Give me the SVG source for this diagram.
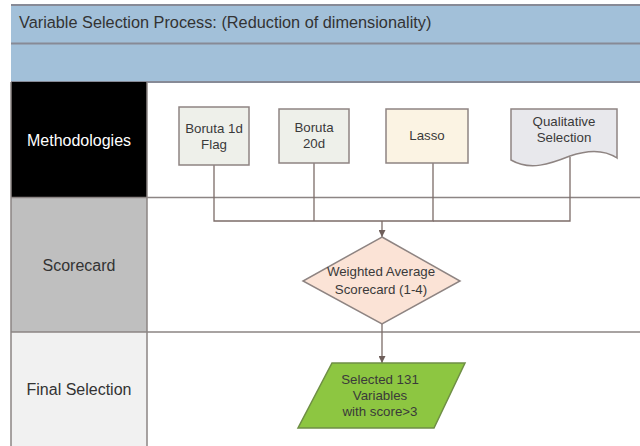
<svg xmlns="http://www.w3.org/2000/svg" width="640" height="446" viewBox="0 0 640 446">
<defs>
<style>
.band{fill:#a2c0d9;}
.grid{stroke:#8c8584;stroke-width:1.5;fill:none;}
.bandline{stroke:#878a96;stroke-width:2;fill:none;}
.lane{font-family:"Liberation Sans",Arial,sans-serif;font-size:16px;fill:#333;text-anchor:middle;}
.title{font-family:"Liberation Sans",Arial,sans-serif;font-size:16.3px;fill:#333;}
.ntxt{font-family:"Liberation Sans",Arial,sans-serif;font-size:13.3px;fill:#3a3a3a;text-anchor:middle;}
.node{stroke:#8e8482;stroke-width:1.5;}
.conn{stroke:#7c6c68;stroke-width:1.3;fill:none;}
</style>
<marker id="arr" viewBox="0 0 10 10" refX="10" refY="5" markerWidth="7" markerHeight="7" markerUnits="userSpaceOnUse" orient="auto">
<path d="M0,0 L10,5 L0,10 Z" fill="#6e5e5a"/>
</marker>
</defs>
<rect width="640" height="446" fill="#ffffff"/>
<g id="header">
<rect class="band" x="11" y="5" width="629" height="77"/>
<path class="bandline" d="M11,5 H640 M11,43.5 H640 M11,82 H640"/>
<text class="title" x="19" y="27.5">Variable Selection Process: (Reduction of dimensionality)</text>
</g>
<g id="lanes">
<rect id="lane-methodologies" x="11" y="82" width="136" height="115.5" fill="#000000"/>
<rect id="lane-scorecard" x="11" y="197.5" width="136" height="134.5" fill="#bfbfbf"/>
<rect id="lane-final" x="11" y="332" width="136" height="114" fill="#f1f1f1"/>
<path class="grid" d="M11,82 V446 M147,82 V446 M11,197.5 H640 M11,332 H640"/>
<text class="lane" x="79" y="145.5" style="fill:#ffffff">Methodologies</text>
<text class="lane" x="79" y="270.5">Scorecard</text>
<text class="lane" x="79" y="394.5">Final Selection</text>
</g>
<g id="connectors">
<path class="conn" d="M214,165 V221 H382"/>
<path class="conn" d="M314,163 V221"/>
<path class="conn" d="M433,163 V221 H382"/>
<path class="conn" d="M570,157 V221 H433"/>
<path class="conn" d="M382,221 V237" marker-end="url(#arr)"/>
<path class="conn" d="M382,324 V363" marker-end="url(#arr)"/>
</g>
<g id="boruta1d">
<rect class="node" x="179" y="107" width="70" height="58" fill="#eef0ea"/>
<text class="ntxt" x="214" y="133">Boruta 1d</text>
<text class="ntxt" x="214" y="148.5">Flag</text>
</g>
<g id="boruta20d">
<rect class="node" x="279" y="109" width="70" height="54" fill="#eef0ea"/>
<text class="ntxt" x="314" y="132">Boruta</text>
<text class="ntxt" x="314" y="148">20d</text>
</g>
<g id="lasso">
<rect class="node" x="386" y="109" width="82" height="54" fill="#fbf3e3"/>
<text class="ntxt" x="427" y="140">Lasso</text>
</g>
<g id="qualitative">
<path class="node" d="M511,109 H617 V158 C605,150 590,149 570,156 C550,164 530,171 511,160 Z" fill="#e8e8ec"/>
<text class="ntxt" x="564" y="126">Qualitative</text>
<text class="ntxt" x="564" y="142">Selection</text>
</g>
<g id="scorecard">
<polygon class="node" points="382,237 460,281 382,324 303,281" fill="#fbe3d6"/>
<text class="ntxt" x="381" y="276">Weighted Average</text>
<text class="ntxt" x="381" y="293.5">Scorecard (1-4)</text>
</g>
<g id="selected">
<polygon points="332,363 465,363 434,428 298,428" fill="#8dc641" stroke="#6f8f45" stroke-width="1.5"/>
<text class="ntxt" x="380" y="384">Selected 131</text>
<text class="ntxt" x="380" y="400">Variables</text>
<text class="ntxt" x="380" y="416">with score&gt;3</text>
</g>
</svg>
